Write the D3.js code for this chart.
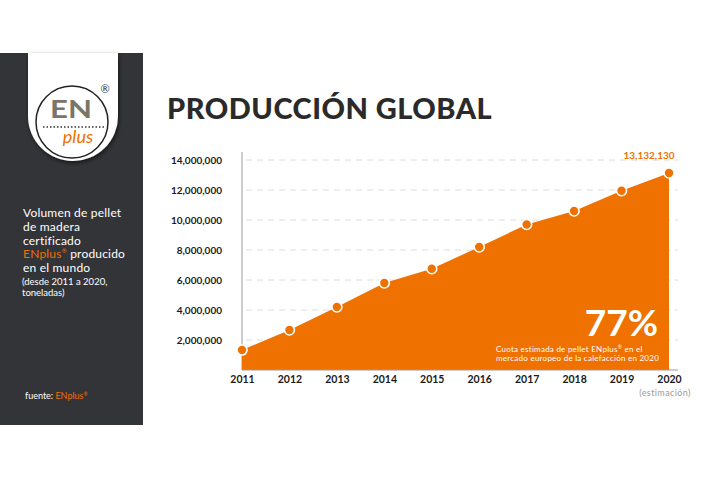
<!DOCTYPE html>
<html lang="es">
<head>
<meta charset="UTF-8">
<title>Producción global</title>
<script src="https://cdnjs.cloudflare.com/ajax/libs/d3/7.8.5/d3.min.js"></script>
<style>
  body { margin: 0; background: #fff; }
  svg { display: block; }
</style>
</head>
<body>
<div id="chart"></div>
<script>
var years = ["2011","2012","2013","2014","2015","2016","2017","2018","2019","2020"];
var volumes = [1330000, 2670000, 4200000, 5800000, 6750000, 8200000, 9700000, 10600000, 11950000, 13132130];
var yTicks = [2000000, 4000000, 6000000, 8000000, 10000000, 12000000, 14000000];
var sideLines = ["Volumen de pellet", "de madera", "certificado", "", "en el mundo"];
var noteLines = ["Cuota estimada de pellet ENplus", "mercado europeo de la calefacción en 2020"];

var orange = "#ef7100";
var W = 712, H = 480;

var svg = d3.select("#chart").append("svg")
    .attr("width", W)
    .attr("height", H);

// ---- left panel
svg.append("rect")
    .attr("x", 0).attr("y", 53)
    .attr("width", 143).attr("height", 372)
    .attr("fill", "#333438");

var defs = svg.append("defs");
var f = defs.append("filter").attr("id", "sh").attr("x", "-20%").attr("y", "-20%").attr("width", "140%").attr("height", "140%");
f.append("feDropShadow").attr("dx", 1).attr("dy", 2).attr("stdDeviation", 2).attr("flood-color", "#000").attr("flood-opacity", 0.6);

// white tab with round bottom
svg.append("path")
    .attr("d", "M28,53 L28,116 A45,45 0 0 0 118,116 L118,53 Z")
    .attr("fill", "#fff")
    .attr("filter", "url(#sh)");

// logo
svg.append("circle")
    .attr("cx", 72).attr("cy", 122).attr("r", 36)
    .attr("fill", "#fff")
    .attr("stroke", "#222").attr("stroke-width", 1.5);
svg.append("text")
    .attr("x", 50).attr("y", 118)
    .attr("font-family", "Lato, sans-serif").attr("font-weight", 700)
    .attr("font-size", 25)
    .attr("textLength", 42).attr("lengthAdjust", "spacingAndGlyphs")
    .attr("fill", "#7b7568")
    .text("EN");
svg.append("line")
    .attr("x1", 43).attr("x2", 105).attr("y1", 127).attr("y2", 127)
    .attr("stroke", "#333").attr("stroke-width", 1.5)
    .attr("stroke-dasharray", "1.5,2");
svg.append("text")
    .attr("x", 78).attr("y", 143)
    .attr("text-anchor", "middle")
    .attr("font-family", "Lato, sans-serif").attr("font-style", "italic")
    .attr("font-size", 18)
    .attr("fill", orange)
    .text("plus");
svg.append("text")
    .attr("x", 105).attr("y", 93)
    .attr("text-anchor", "middle")
    .attr("font-family", "Lato, sans-serif")
    .attr("font-size", 11)
    .attr("fill", "#333")
    .text("®");

// side texts
var side = svg.append("g").attr("font-family", "Lato, sans-serif").attr("fill", "#fff");
side.selectAll("text.s").data(sideLines).join("text")
    .attr("class", "s")
    .attr("x", 23)
    .attr("y", (d, i) => 217 + i * 13.8)
    .attr("font-size", 12)
    .attr("letter-spacing", 0.2)
    .text(d => d);
var enl = side.append("text").attr("x", 23).attr("y", 217 + 3 * 13.8).attr("font-size", 12).attr("letter-spacing", 0.2);
enl.append("tspan").attr("fill", orange).text("ENplus");
enl.append("tspan").attr("fill", orange).attr("font-size", 6).attr("dy", -5).text("®");
enl.append("tspan").attr("dy", 5).text(" producido");
side.append("text").attr("x", 22).attr("y", 285).attr("font-size", 9.5).text("(desde 2011 a 2020,");
side.append("text").attr("x", 22).attr("y", 296).attr("font-size", 9.5).text("toneladas)");
var src = side.append("text").attr("x", 25).attr("y", 399).attr("font-size", 9);
src.append("tspan").text("fuente: ");
src.append("tspan").attr("fill", orange).text("ENplus");
src.append("tspan").attr("fill", orange).attr("font-size", 5).attr("dy", -3).text("®");

// ---- title
svg.append("text")
    .attr("x", 167).attr("y", 119)
    .attr("font-family", "Lato, sans-serif").attr("font-weight", 900)
    .attr("font-size", 29)
    .attr("letter-spacing", 0.5)
    .attr("fill", "#2a2a2a")
    .text("PRODUCCIÓN GLOBAL");

// ---- chart
var x = d3.scalePoint().domain(years).range([242, 669]);
var y = d3.scaleLinear().domain([0, 14000000]).range([370, 160]);

// grid
svg.append("g")
    .selectAll("line").data(yTicks).join("line")
    .attr("x1", 246).attr("x2", 678)
    .attr("y1", d => y(d)).attr("y2", d => y(d))
    .attr("stroke", "#dcdcdc").attr("stroke-width", 1)
    .attr("stroke-dasharray", "6,5");

// y axis
var yAxis = svg.append("g")
    .attr("transform", "translate(242,0)")
    .call(d3.axisLeft(y).tickValues(yTicks).tickSize(0).tickPadding(20).tickFormat(d3.format(",")));
yAxis.select(".domain").remove();
yAxis.selectAll("text")
    .attr("font-family", "Lato, sans-serif").attr("font-weight", 700)
    .attr("font-size", 10).attr("fill", "#1a1a1a");
svg.append("line")
    .attr("x1", 242).attr("x2", 242).attr("y1", 152).attr("y2", 370)
    .attr("stroke", "#9a9a9a").attr("stroke-width", 1);

// area
var area = d3.area()
    .x((d, i) => x(years[i]))
    .y0(y(0))
    .y1(d => y(d));
svg.append("path")
    .datum(volumes)
    .attr("d", area)
    .attr("fill", orange);

// x axis
var xAxis = svg.append("g")
    .attr("transform", "translate(0," + y(0) + ")")
    .call(d3.axisBottom(x).tickSize(0).tickPadding(6));
xAxis.select(".domain").attr("d", "M242,0H678").attr("stroke", "#9a9a9a");
xAxis.selectAll("text")
    .attr("font-family", "Lato, sans-serif").attr("font-weight", 700)
    .attr("font-size", 10.5).attr("fill", "#1a1a1a");
svg.append("text")
    .attr("x", x("2020") - 4).attr("y", 396)
    .attr("text-anchor", "middle")
    .attr("font-family", "Lato, sans-serif")
    .attr("font-size", 9).attr("fill", "#9a9a9a")
    .attr("letter-spacing", 0.4)
    .text("(estimación)");

// points
svg.append("g")
    .selectAll("circle").data(volumes).join("circle")
    .attr("cx", (d, i) => x(years[i]))
    .attr("cy", d => y(d))
    .attr("r", 5)
    .attr("fill", orange)
    .attr("stroke", "#fff").attr("stroke-width", 1.6);

// last value label
svg.append("text")
    .attr("x", x("2020") - 20).attr("y", 159)
    .attr("text-anchor", "middle")
    .attr("font-family", "Lato, sans-serif").attr("font-weight", 700)
    .attr("font-size", 10).attr("fill", orange)
    .text(d3.format(",")(volumes[volumes.length - 1]));

// 77% note
svg.append("text")
    .attr("x", 658).attr("y", 336)
    .attr("text-anchor", "end")
    .attr("font-family", "Lato, sans-serif").attr("font-weight", 700)
    .attr("font-size", 37).attr("fill", "#fff")
    .text("77%");
var note = svg.append("g").attr("font-family", "Lato, sans-serif").attr("font-size", 8).attr("letter-spacing", 0.25).attr("fill", "#fff");
var n1 = note.append("text").attr("x", 496).attr("y", 352);
n1.append("tspan").text(noteLines[0]);
n1.append("tspan").attr("font-size", 5).attr("dy", -3).text("®");
n1.append("tspan").attr("dy", 3).text(" en el");
note.append("text").attr("x", 496).attr("y", 361).text(noteLines[1]);
</script>
</body>
</html>
